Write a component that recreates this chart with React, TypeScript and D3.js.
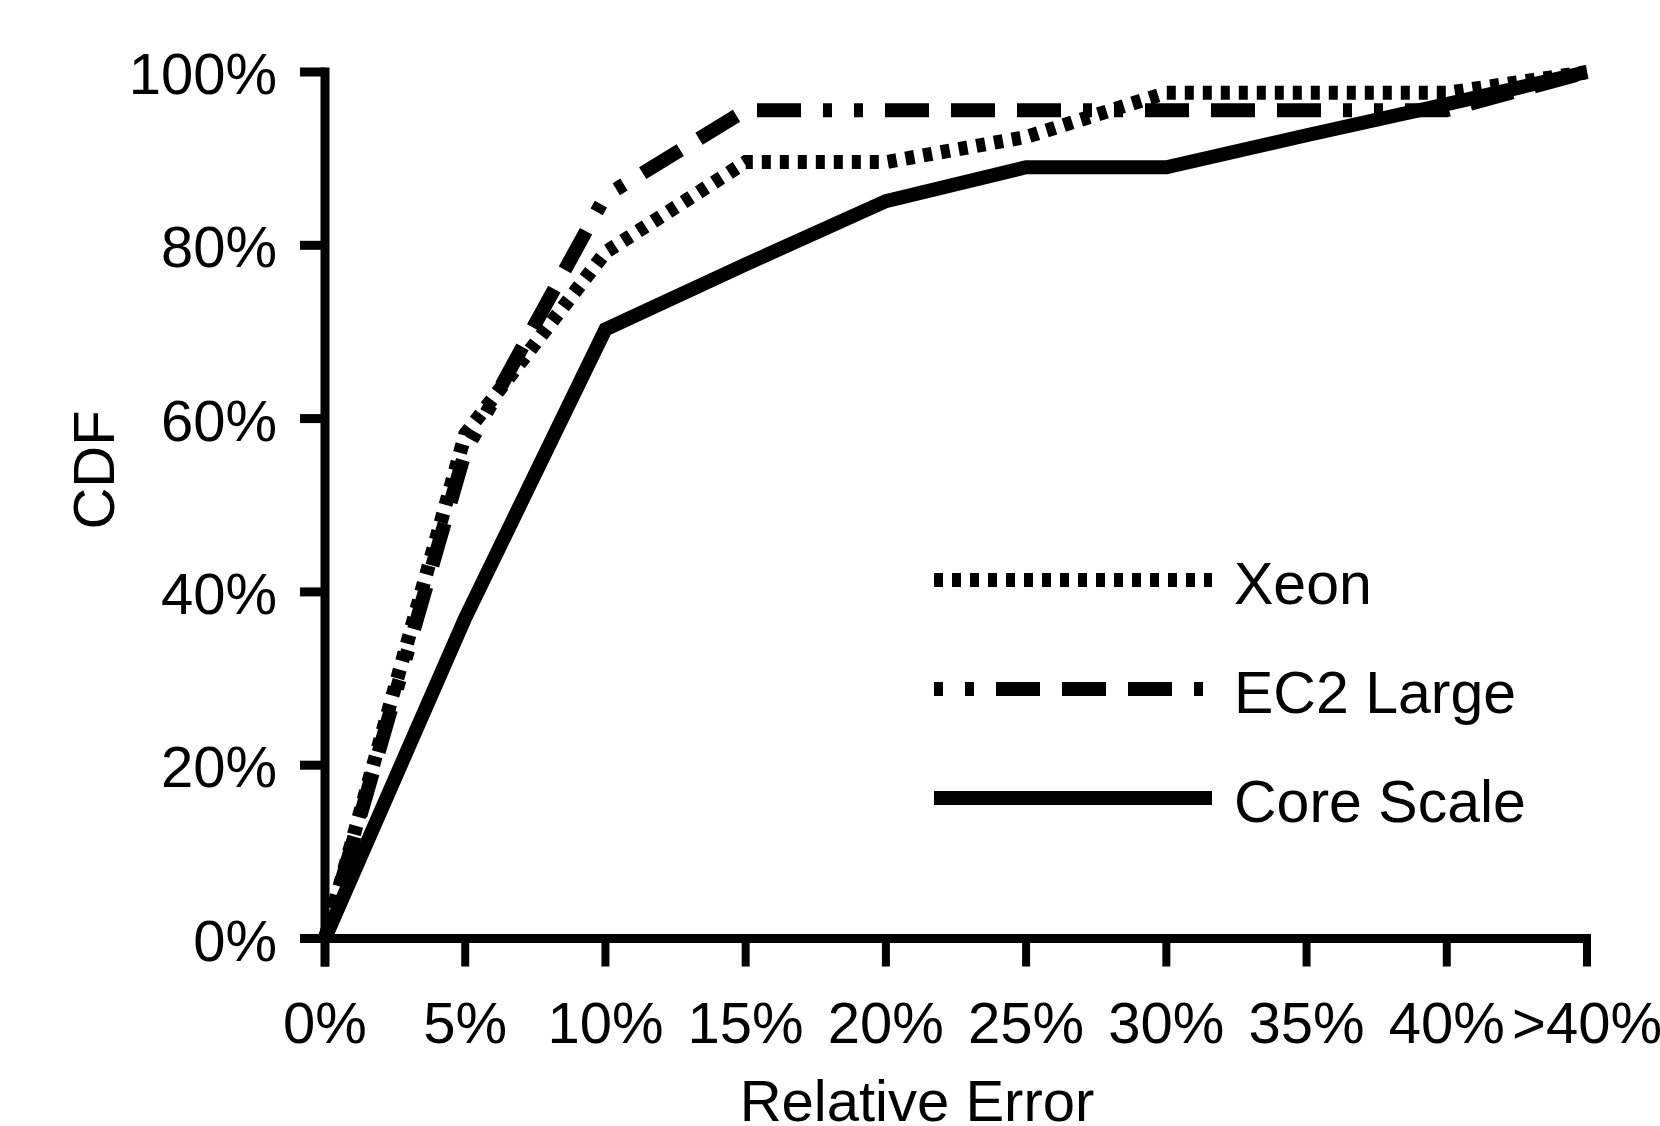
import React from 'react';
import { scalePoint, scaleLinear, line, format } from 'd3';

const width = 1660;
const height = 1126;

// x categories (relative error buckets)
const categories = ['0%', '5%', '10%', '15%', '20%', '25%', '30%', '35%', '40%', '>40%'];

// CDF values per series
const xeon = [0, 0.582, 0.792, 0.896, 0.896, 0.925, 0.976, 0.976, 0.976, 1.0];
const ec2Large = [0, 0.562, 0.857, 0.956, 0.956, 0.956, 0.956, 0.956, 0.956, 1.0];
const coreScale = [0, 0.37, 0.703, 0.778, 0.851, 0.89, 0.89, 0.927, 0.963, 1.0];

const yTicks = [0, 0.2, 0.4, 0.6, 0.8, 1.0];

const series = [
  { name: 'Xeon', values: xeon, dash: '9,9' },
  { name: 'EC2 Large', values: ec2Large, dash: '9,22,9,22,44,22,44,22,44,22' },
  { name: 'Core Scale', values: coreScale, dash: null },
];

const font = '"Liberation Sans", Arial, sans-serif';
const fontSize = 58;

const xScale = scalePoint<string>().domain(categories).range([325, 1587]);
const yScale = scaleLinear().domain([0, 1]).range([938.5, 72]);
const pct = format('.0%');

const lineGen = line<number>()
  .x((d, i) => xScale(categories[i]) as number)
  .y(d => yScale(d));

const legendX1 = 934;
const legendX2 = 1212;
const legendY0 = 580;
const legendStep = 109;

const App = () => {
  const x0 = xScale(categories[0]) as number;
  const xEnd = xScale(categories[categories.length - 1]) as number;
  const y0 = yScale(0);
  const yTop = yScale(1);

  return (
    <svg
      width={width}
      height={height}
      style={{ position: 'absolute', left: 0, top: 0, background: '#fff' }}
      fontFamily={font}
    >
      {/* series */}
      {series.map(s => (
        <path
          key={s.name}
          d={lineGen(s.values) as string}
          fill="none"
          stroke="#000"
          strokeWidth={14}
          strokeDasharray={s.dash || undefined}
          strokeLinejoin="miter"
        />
      ))}

      {/* axes */}
      <line x1={x0} x2={x0} y1={yTop - 4.5} y2={y0 + 28} stroke="#000" strokeWidth={9} />
      <line x1={x0 - 25} x2={xEnd + 4} y1={y0} y2={y0} stroke="#000" strokeWidth={9} />
      {yTicks.map(t => (
        <g key={t}>
          <line x1={x0 - 25} x2={x0} y1={yScale(t)} y2={yScale(t)} stroke="#000" strokeWidth={9} />
          <text x={277} y={yScale(t) + 22} textAnchor="end" fontSize={fontSize}>
            {pct(t)}
          </text>
        </g>
      ))}
      {categories.map(c => (
        <g key={c}>
          <line
            x1={xScale(c)}
            x2={xScale(c)}
            y1={y0}
            y2={y0 + 28}
            stroke="#000"
            strokeWidth={8}
          />
          <text x={xScale(c)} y={1043} textAnchor="middle" fontSize={fontSize}>
            {c}
          </text>
        </g>
      ))}

      {/* axis titles */}
      <text x={917} y={1121} textAnchor="middle" fontSize={fontSize}>
        Relative Error
      </text>
      <text
        transform={`translate(114, 470) rotate(-90)`}
        textAnchor="middle"
        fontSize={fontSize}
      >
        CDF
      </text>

      {/* legend */}
      {series.map((s, i) => (
        <g key={s.name} transform={`translate(0, ${legendY0 + i * legendStep})`}>
          <line
            x1={legendX1}
            x2={legendX2}
            y1={0}
            y2={0}
            stroke="#000"
            strokeWidth={14}
            strokeDasharray={s.dash || undefined}
          />
          <text x={1234} y={23.5} fontSize={59}>
            {s.name}
          </text>
        </g>
      ))}
    </svg>
  );
};

export default App;
